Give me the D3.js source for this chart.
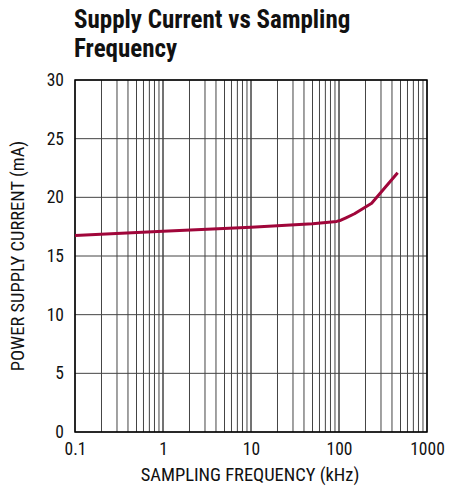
<!DOCTYPE html>
<html>
<head>
<meta charset="utf-8">
<script src="https://cdn.jsdelivr.net/npm/d3@7"></script>
<style>
  body { margin: 0; background: #fff; }
  text { font-family: "Liberation Sans Narrow", "Arial Narrow", "Roboto Condensed", sans-serif; fill: #111; }
</style>
</head>
<body>
<svg id="chart" width="456" height="489"></svg>
<script>
// data
const freqKHz = [0.1, 1, 10, 50, 94, 105, 120, 150, 235, 464];
const currentMA = [16.75, 17.1, 17.45, 17.75, 17.95, 18.05, 18.25, 18.6, 19.5, 22.1];
const xTicks = [0.1, 1, 10, 100, 1000];
const yTicks = [0, 5, 10, 15, 20, 25, 30];

const margin = {top: 80, right: 29, bottom: 57, left: 75};
const svgWidth = 456, svgHeight = 489;
const width = svgWidth - margin.left - margin.right;
const height = svgHeight - margin.top - margin.bottom;

const svg = d3.select("#chart");

// title
const title = svg.append("text")
    .attr("x", 74)
    .attr("font-size", 25)
    .attr("font-weight", "bold");
title.append("tspan").attr("x", 74).attr("y", 28).text("Supply Current vs Sampling");
title.append("tspan").attr("x", 74).attr("y", 57).text("Frequency");

const g = svg.append("g")
    .attr("transform", "translate(" + margin.left + "," + margin.top + ")");

const x = d3.scaleLog().domain([0.1, 1000]).range([0, width]);
const y = d3.scaleLinear().domain([0, 30]).range([height, 0]);

// minor + major vertical grid
const gridX = [];
for (let dec = 0.1; dec < 1000; dec *= 10) {
    for (let k = 1; k <= 10; k++) gridX.push(+(dec * k).toPrecision(3));
}
g.append("g")
    .selectAll("line")
    .data(gridX)
    .join("line")
    .attr("x1", d => x(d)).attr("x2", d => x(d))
    .attr("y1", 0).attr("y2", height)
    .attr("stroke", "#444")
    .attr("stroke-width", 1);

g.append("g")
    .selectAll("line")
    .data(yTicks)
    .join("line")
    .attr("x1", 0).attr("x2", width)
    .attr("y1", d => y(d)).attr("y2", d => y(d))
    .attr("stroke", "#444")
    .attr("stroke-width", 1);

// frame
g.append("rect")
    .attr("width", width).attr("height", height)
    .attr("fill", "none")
    .attr("stroke", "#000")
    .attr("stroke-width", 1.5);

// axes labels
const xAxis = g.append("g")
    .attr("transform", "translate(0," + height + ")")
    .call(d3.axisBottom(x).tickValues(xTicks).tickSize(0).tickPadding(11)
        .tickFormat(d => String(d)));
xAxis.select(".domain").remove();
xAxis.selectAll("text").attr("font-size", 17.5).attr("fill", "#111");

const yAxis = g.append("g")
    .call(d3.axisLeft(y).tickValues(yTicks).tickSize(0).tickPadding(11));
yAxis.select(".domain").remove();
yAxis.selectAll("text").attr("font-size", 17.5).attr("fill", "#111");

g.append("text")
    .attr("x", width / 2 - 1)
    .attr("y", height + 49)
    .attr("text-anchor", "middle")
    .attr("font-size", 18.5)
    .text("SAMPLING FREQUENCY (kHz)");

g.append("text")
    .attr("transform", "rotate(-90)")
    .attr("x", -height / 2)
    .attr("y", -51)
    .attr("text-anchor", "middle")
    .attr("font-size", 18.5)
    .text("POWER SUPPLY CURRENT (mA)");

// curve
const line = d3.line()
    .x((d, i) => x(freqKHz[i]))
    .y((d, i) => y(currentMA[i]));

g.append("path")
    .datum(currentMA)
    .attr("fill", "none")
    .attr("stroke", "#a0063a")
    .attr("stroke-width", 3)
    .attr("stroke-linejoin", "round")
    .attr("d", line);
</script>
</body>
</html>
